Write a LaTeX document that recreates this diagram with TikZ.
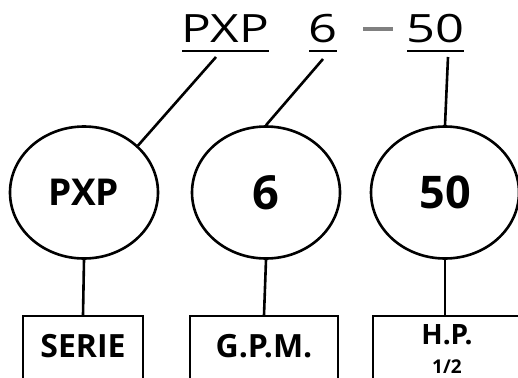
\documentclass[tikz,border=0pt]{standalone}
\usepackage{fontspec}
\setmainfont{Open Sans}
\usetikzlibrary{shapes.geometric}

\tikzset{
  code/.style={inner sep=0pt, anchor=base, font=\fontsize{39}{39}\selectfont},
  bubble/.style={draw, ellipse, line width=2.6pt, minimum width=148pt, minimum height=132pt, inner sep=0pt, font=\bfseries},
  tag/.style={draw, line width=2.2pt, minimum height=100pt, anchor=north},
  tagtext/.style={inner sep=0pt, font=\bfseries\fontsize{32}{32}\selectfont},
  link/.style={line width=2.6pt}
}

\begin{document}
\begin{tikzpicture}[x=1pt,y=-1pt]
    \useasboundingbox (0,0) rectangle (518,377);
    \clip (0,0) rectangle (518,377);
    % model code on top
    \node[code] (t1) at (225.5,43) {\scalebox{1.27}[1]{PXP}};
    \node[code] (t2) at (323,43) {\scalebox{1.3}[1]{6}};
    \node[code] (t3) at (435.5,43) {\scalebox{1.3}[1]{50}};
    \draw[line width=2.6pt] (182,51) -- (269,51);
    \draw[line width=2.6pt] (309,51) -- (337,51);
    \draw[line width=2.6pt] (407,51) -- (464,51);
    \draw[line width=3.5pt, gray] (363,29) -- (393,29);
    \coordinate (u1) at (216,57);
    \coordinate (u2) at (323,59);
    \coordinate (u3) at (448,57);
    % circles
    \node[bubble, font=\bfseries\fontsize{37}{37}\selectfont] (c1) at (84,192.5) {PXP};
    \node[bubble, font=\bfseries\fontsize{47}{47}\selectfont] (c2) at (266,192.5) {6};
    \node[bubble, font=\bfseries\fontsize{45}{45}\selectfont] (c3) at (445,192.5) {50};
    \draw[link] (u1) -- (c1.41);
    \draw[link] (u2) -- (c2.north);
    \draw[link] (u3) -- (c3.north);
    % boxes below
    \node[tag, minimum width=120pt] (b1) at (83,315) {};
    \node[tag, minimum width=148pt] (b2) at (264,315) {};
    \node[tag, minimum width=170pt] (b3) at (458,315) {};
    \draw[link] (c1.south) -- (83,315);
    \draw[link] (c2.south) -- (b2.north);
    \draw[link] (c3.south) -- (445,315);
    \node[tagtext] (s1) at (83,346.5) {SERIE};
    \node[tagtext] (s2) at (264,346.5) {G.P.M.};
    \node[tagtext, font=\bfseries\fontsize{28}{28}\selectfont] (s3) at (447,335) {H.P.};
    \node[tagtext, font=\bfseries\fontsize{19}{19}\selectfont] (s4) at (447,367) {1/2};
  \end{tikzpicture}
\end{document}
